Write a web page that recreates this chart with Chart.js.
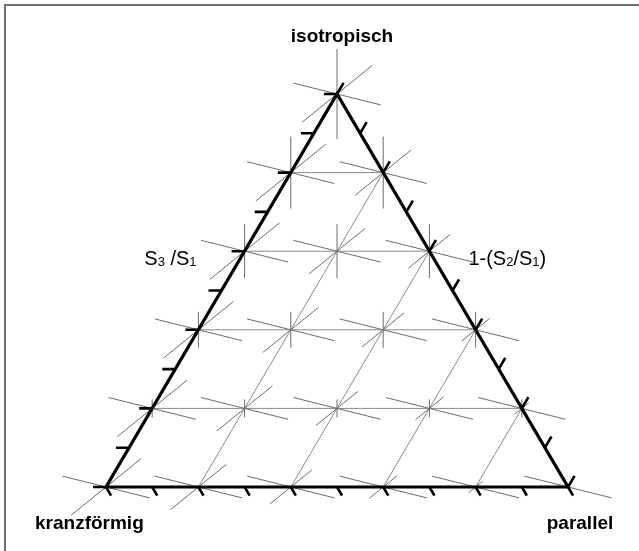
<!DOCTYPE html>
<html><head><meta charset="utf-8">
<script src="https://cdn.jsdelivr.net/npm/chart.js@4.4.1/dist/chart.umd.min.js"></script>
<style>
html,body{margin:0;padding:0;background:#fff;}
#wrap{position:relative;width:639px;height:551px;overflow:hidden;}
#frame{position:absolute;left:4px;top:4px;width:700px;height:600px;border-left:2px solid #707070;border-top:2px solid #707070;pointer-events:none;}
canvas{position:absolute;left:0;top:0;}
</style></head><body>
<div id="wrap"><canvas id="c" width="639" height="551"></canvas><div id="frame"></div></div>
<script>
// ---------- data ----------
const S3S1_LEVELS = [1.0, 0.8, 0.6, 0.4, 0.2, 0.0];   // grid rows, top -> bottom (S3/S1)
const S2S1_LEVELS = [1.0, 0.8, 0.6, 0.4, 0.2, 0.0];   // grid columns (S2/S1)
const GRID_VALUES = [0.2, 0.4, 0.6, 0.8];
const TICK_VALUES = [0, 0.1, 0.2, 0.3, 0.4, 0.5, 0.6, 0.7, 0.8, 0.9, 1.0];
const VERTEX_LABELS = ['isotropisch', 'kranzförmig', 'parallel'];
const LEFT_AXIS_LABEL = [['S', 0], ['3', 1], [' /S', 0], ['1', 1]];
const RIGHT_AXIS_LABEL = [['1-(S', 0], ['2', 1], ['/S', 0], ['1', 1], [')', 0]];

// ---------- geometry (style) ----------
const PX = 462;              // pixels per unit
const H = 393 / 462;         // triangle height in units
const GLYPH = 45 / PX;       // glyph half length for S1 = 1
const ANG_X = -14 * Math.PI / 180;
const ANG_Y = 39 * Math.PI / 180;
const TICK_L = 13 / PX, TICK_R = 13 / PX, TICK_B = 10 / PX;

// s3 = S3/S1, b = 1 - S2/S1
function tern(s3, b) { return { x: b + 0.5 * s3, y: s3 * H }; }
function seg(arr, p, q) { arr.push({ x: p.x, y: p.y }, { x: q.x, y: q.y }, { x: q.x, y: null }); }
function add(p, dx, dy, k) { return { x: p.x + dx * k, y: p.y + dy * k }; }

const vTop = tern(1, 0), vBL = tern(0, 0), vBR = tern(0, 1);
const edgeData = [vTop, vBR, vBL, vTop, vBR].map(p => ({ x: p.x, y: p.y }));

const gridData = [];
GRID_VALUES.forEach(v => {
  seg(gridData, tern(v, 0), tern(v, 1 - v));          // horizontal (S3/S1 const)
  seg(gridData, tern(0, v), tern(1 - v, v));          // parallel to left edge (S2/S1 const)
});

const glyphData = [];
S3S1_LEVELS.forEach(s3 => {
  S2S1_LEVELS.forEach(s2 => {
    if (s2 < s3) return;
    const c = tern(s3, 1 - s2);
    const axes = [[Math.cos(ANG_X), Math.sin(ANG_X), 1], [Math.cos(ANG_Y), Math.sin(ANG_Y), s2], [0, 1, s3]];
    axes.forEach(([dx, dy, s]) => {
      if (s <= 0) return;
      seg(glyphData, add(c, -dx, -dy, GLYPH * s), add(c, dx, dy, GLYPH * s));
    });
  });
});

const tickData = [];
const lenLE = Math.hypot(0.5, H);
TICK_VALUES.forEach(v => {
  const pl = tern(v, 0); seg(tickData, pl, add(pl, -1, 0, TICK_L));
  const pr = tern(1 - v, v); seg(tickData, pr, add(pr, 0.5 / lenLE, H / lenLE, TICK_R));
  const pb = tern(0, v); seg(tickData, pb, add(pb, 0.5 / lenLE, -H / lenLE, TICK_B));
});

// ---------- labels plugin ----------
const labelPlugin = {
  id: 'labels',
  afterDraw(chart) {
    const ctx = chart.ctx, sx = chart.scales.x, sy = chart.scales.y;
    const P = p => ({ x: sx.getPixelForValue(p.x), y: sy.getPixelForValue(p.y) });
    ctx.save();
    ctx.fillStyle = '#000';
    ctx.textBaseline = 'alphabetic';
    ctx.font = 'bold 19px "Liberation Sans", Arial, sans-serif';
    const t = P(vTop), l = P(vBL), r = P(vBR);
    ctx.textAlign = 'center'; ctx.fillText(VERTEX_LABELS[0], t.x + 5, t.y - 52);
    ctx.textAlign = 'left'; ctx.fillText(VERTEX_LABELS[1], l.x - 71, l.y + 42);
    ctx.textAlign = 'center'; ctx.fillText(VERTEX_LABELS[2], r.x + 12, r.y + 42);

    function rich(parts, x, y, alignRight) {
      ctx.textAlign = 'left';
      const fonts = ['20px "Liberation Sans", Arial, sans-serif', '13px "Liberation Sans", Arial, sans-serif'];
      let w = 0;
      parts.forEach(([s, sub]) => { ctx.font = fonts[sub]; w += ctx.measureText(s).width; });
      let cx = alignRight ? x - w : x;
      parts.forEach(([s, sub]) => { ctx.font = fonts[sub]; ctx.fillText(s, cx, y + (sub ? 1 : 0)); cx += ctx.measureText(s).width; });
    }
    const pl = P(tern(0.6, 0)), pr = P(tern(0.6, 0.4));
    rich(LEFT_AXIS_LABEL, pl.x - 48, pl.y + 14, true);
    rich(RIGHT_AXIS_LABEL, pr.x + 39, pr.y + 14, false);
    ctx.restore();
  }
};

const common = { showLine: true, pointRadius: 0, pointHoverRadius: 0, spanGaps: false, fill: false, tension: 0 };
new Chart(document.getElementById('c'), {
  type: 'scatter',
  data: {
    datasets: [
      { ...common, data: edgeData, borderColor: '#000', borderWidth: 3.2, borderJoinStyle: 'miter' },
      { ...common, data: tickData, borderColor: '#000', borderWidth: 2.6 },
      { ...common, data: glyphData, borderColor: '#6c6c6c', borderWidth: 1 },
      { ...common, data: gridData, borderColor: '#8a8a8a', borderWidth: 1 }
    ]
  },
  options: {
    responsive: false, devicePixelRatio: 1, animation: false,
    layout: { padding: 0 },
    plugins: { legend: { display: false }, tooltip: { enabled: false }, title: { display: false } },
    scales: {
      x: { type: 'linear', display: false, min: -106 / PX, max: (639 - 106) / PX },
      y: { type: 'linear', display: false, min: 487 / PX - 551 / PX, max: 487 / PX }
    }
  },
  plugins: [labelPlugin]
});
</script>
</body></html>
